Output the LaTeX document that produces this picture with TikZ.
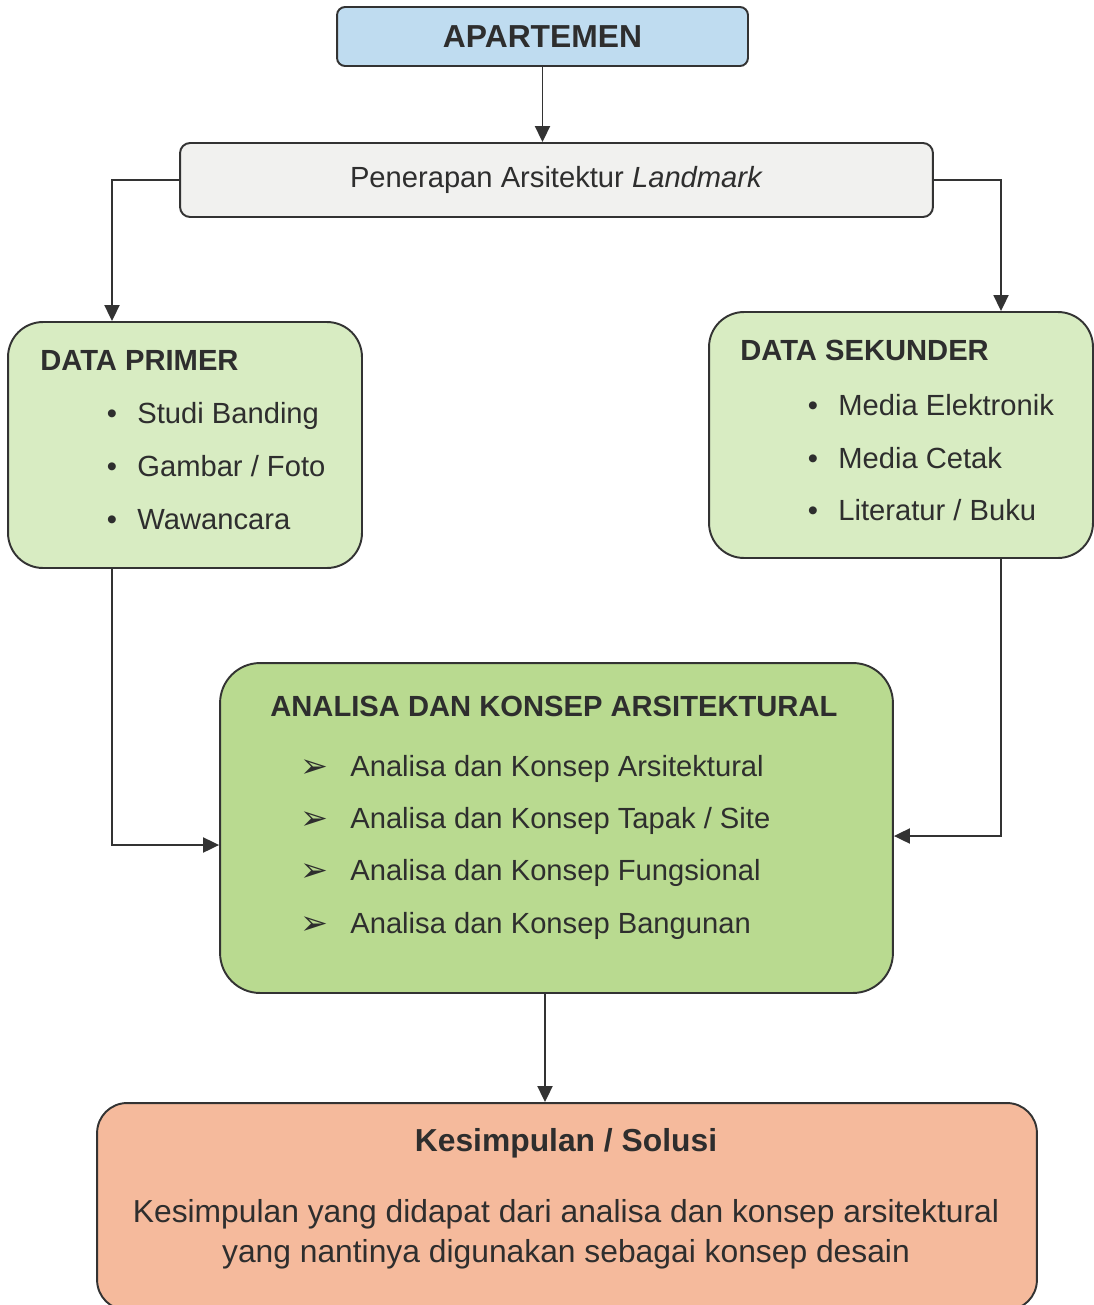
\documentclass[tikz,border=0pt]{standalone}
\usepackage{fontspec}
\setmainfont{Liberation Sans}
\newfontfamily\symfont{DejaVu Sans}
\usetikzlibrary{arrows.meta}
\definecolor{linegray}{HTML}{333333}
\definecolor{textgray}{HTML}{2E2E2E}
\definecolor{boxblue}{HTML}{BFDCF0}
\definecolor{boxgray}{HTML}{F1F1EF}
\definecolor{boxgreen}{HTML}{D8ECC2}
\definecolor{boxdeep}{HTML}{B9DA90}
\definecolor{boxsalmon}{HTML}{F5BA9C}
\newcommand\listfont{\fontsize{16.6}{20}\selectfont}
\newcommand\bigfont{\fontsize{18.1}{22}\selectfont}
\tikzset{
	box/.style={draw=linegray,line width=1.1pt,inner sep=0pt,text=textgray},
	conn/.style={draw=linegray,line width=1.1pt,-{Triangle[width=0.3cm,length=0.32cm]}},
	txt/.style={text=textgray,inner sep=0pt,anchor=base west,font=\listfont},
	glyph/.style={text=textgray,inner sep=0pt,anchor=base,font=\listfont},
}
\begin{document}
\begin{tikzpicture}[x=0.02cm,y=-0.02cm]
	\fill[white] (0,0) rectangle (1093,1305);
	\useasboundingbox (0,0) rectangle (1093,1305);
	\node[box,fill=boxblue,rounded corners=0.16cm,minimum width=8.22cm,minimum height=1.18cm,font=\bfseries\bigfont] (apartemen) at (542.5,36.5) {APARTEMEN};
	\node[box,fill=boxgray,rounded corners=0.2cm,minimum width=15.06cm,minimum height=1.48cm,font=\listfont] (penerapan) at (556.5,180) {Penerapan Arsitektur \textit{Landmark}};
	\node[box,fill=boxgreen,rounded corners=0.7cm,minimum width=7.08cm,minimum height=4.92cm] (primer) at (185,445) {};
	\node[box,fill=boxgreen,rounded corners=0.7cm,minimum width=7.68cm,minimum height=4.92cm] (sekunder) at (901,435) {};
	\node[box,fill=boxdeep,rounded corners=0.8cm,minimum width=13.46cm,minimum height=6.6cm] (analisa) at (556.5,828) {};
	\node[box,fill=boxsalmon,rounded corners=0.6cm,minimum width=18.8cm,minimum height=4.14cm] (kesimpulan) at (567,1206.5) {};

	\coordinate (pl) at (112,180);
	\coordinate (pr) at (1001,180);
	\coordinate (pm) at (545,0);
	\draw[conn] (apartemen.south) -- (apartemen.south |- penerapan.north);
	\draw[conn] (penerapan.west) -| (pl |- primer.north);
	\draw[conn] (penerapan.east) -| (pr |- sekunder.north);
	\draw[conn] (pl |- primer.south) |- ([yshift=-0.34cm]analisa.west);
	\draw[conn] (pr |- sekunder.south) |- ([yshift=-0.16cm]analisa.east);
	\draw[conn] (pm |- analisa.south) -- (pm |- kesimpulan.north);

	\node[txt,font=\bfseries\listfont] (primertitle) at (40,370.5) {DATA PRIMER};
	\foreach \y/\t [count=\i] in {423.5/{Studi Banding},476.5/{Gambar / Foto},529.5/{Wawancara}}{
		\node[glyph] (primerdot\i) at (112,\y) {•};
		\node[txt] (primeritem\i) at (137,\y) {\t};
	}
	\node[txt,font=\bfseries\listfont] (sekundertitle) at (740,360.5) {DATA SEKUNDER};
	\foreach \y/\t [count=\i] in {415.5/{Media Elektronik},468.5/{Media Cetak},520.5/{Literatur / Buku}}{
		\node[glyph] (sekunderdot\i) at (813,\y) {•};
		\node[txt] (sekunderitem\i) at (838,\y) {\t};
	}
	\node[txt,font=\bfseries\listfont] (analisatitle) at (270,716.5) {ANALISA DAN KONSEP ARSITEKTURAL};
	\foreach \y/\t [count=\i] in {776.5/{Arsitektural},828.5/{Tapak / Site},880.5/{Fungsional},933.5/{Bangunan}}{
		\node[glyph,font=\symfont\fontsize{19}{22}\selectfont] (analisamark\i) at (314,\y+1) {➢};
		\node[txt] (analisaitem\i) at (350,\y) {Analisa dan Konsep \t};
	}
	\node[glyph,font=\bfseries\bigfont] (kesimpulantitle) at (566,1151.5) {Kesimpulan / Solusi};
	\node[glyph,font=\bigfont] (kesimpulanline1) at (566,1222) {Kesimpulan yang didapat dari analisa dan konsep arsitektural};
	\node[glyph,font=\bigfont] (kesimpulanline2) at (566,1262) {yang nantinya digunakan sebagai konsep desain};
\end{tikzpicture}
\end{document}
